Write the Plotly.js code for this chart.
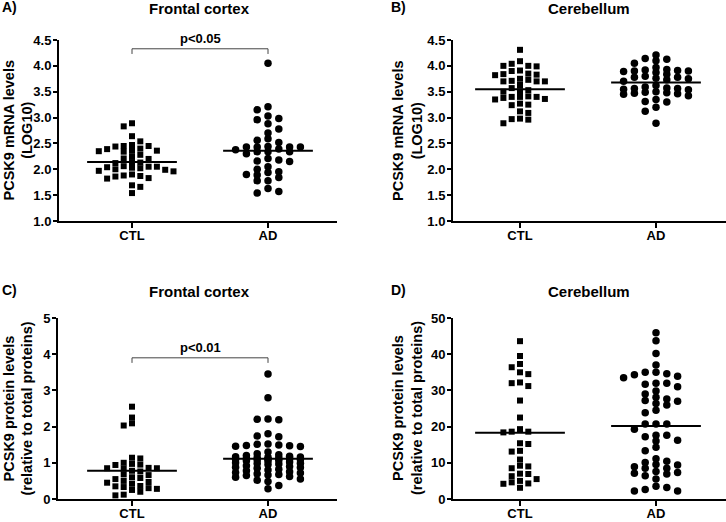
<!DOCTYPE html>
<html>
<head>
<meta charset="utf-8">
<script src="https://cdn.plot.ly/plotly-3.0.1.min.js"></script>
<style>html,body{margin:0;padding:0;background:#fff;}#chart{width:726px;height:522px;}</style>
</head>
<body>
<div id="chart"></div>
<script>
// ---------------- data ----------------
const groups = ['CTL', 'AD'];

// A) Frontal cortex, PCSK9 mRNA (LOG10)
const mrnaFrontalCTL = [2.89, 2.83, 2.64, 2.54, 2.47, 2.45, 2.45, 2.44, 2.40, 2.39, 2.36, 2.35, 2.34, 2.36,
  2.28, 2.25, 2.21, 2.20, 2.14, 2.13, 2.12, 2.06, 2.05, 2.05, 2.04, 2.03, 2.02, 2.00, 1.99, 1.97,
  1.96, 1.90, 1.88, 1.87, 1.86, 1.83, 1.82, 1.69, 1.66, 1.54];
const mrnaFrontalAD = [4.05, 3.21, 3.15, 3.03, 2.98, 2.96, 2.88, 2.78, 2.70, 2.59, 2.56, 2.52, 2.44, 2.43,
  2.43, 2.43, 2.43, 2.39, 2.38, 2.34, 2.34, 2.34, 2.30, 2.21, 2.18, 2.16, 2.15, 2.05, 2.00, 1.95,
  1.94, 1.90, 1.89, 1.84, 1.78, 1.78, 1.63, 1.57, 1.54];
const mrnaFrontalMedian = [2.14, 2.36];

// B) Cerebellum, PCSK9 mRNA (LOG10)
const mrnaCerebCTL = [4.31, 4.09, 4.04, 4.00, 4.00, 3.99, 3.91, 3.90, 3.85, 3.84, 3.83, 3.82, 3.75, 3.73,
  3.71, 3.70, 3.70, 3.70, 3.63, 3.57, 3.53, 3.51, 3.50, 3.41, 3.40, 3.40, 3.40, 3.38, 3.36, 3.35,
  3.27, 3.25, 3.24, 3.12, 3.09, 2.98, 2.97, 2.96, 2.89];
const mrnaCerebAD = [4.21, 4.14, 4.13, 4.10, 4.05, 3.97, 3.93, 3.92, 3.91, 3.90, 3.90, 3.89, 3.87, 3.84,
  3.80, 3.78, 3.78, 3.76, 3.75, 3.73, 3.70, 3.62, 3.59, 3.57, 3.56, 3.56, 3.55, 3.54, 3.50, 3.49,
  3.48, 3.47, 3.46, 3.45, 3.42, 3.35, 3.31, 3.30, 3.20, 3.12, 2.89];
const mrnaCerebMedian = [3.55, 3.68];

// C) Frontal cortex, PCSK9 protein (relative to total proteins)
const protFrontalCTL = [2.55, 2.25, 2.09, 2.03, 1.14, 1.12, 1.00, 0.97, 0.95, 0.94, 0.86, 0.85, 0.85, 0.84,
  0.78, 0.76, 0.68, 0.66, 0.60, 0.58, 0.55, 0.50, 0.47, 0.45, 0.42, 0.36, 0.35, 0.33, 0.30, 0.28,
  0.25, 0.20, 0.12, 0.10];
const protFrontalAD = [3.45, 2.80, 2.21, 2.20, 2.19, 1.80, 1.74, 1.72, 1.52, 1.51, 1.49, 1.48, 1.47, 1.46,
  1.45, 1.30, 1.25, 1.22, 1.20, 1.18, 1.17, 1.16, 1.15, 1.14, 1.13, 1.12, 1.11, 1.10, 1.10, 1.09,
  1.08, 1.07, 1.06, 1.05, 1.02, 1.00, 0.99, 0.98, 0.97, 0.95, 0.92, 0.90, 0.88, 0.87, 0.85, 0.82,
  0.80, 0.78, 0.75, 0.73, 0.72, 0.70, 0.68, 0.66, 0.65, 0.62, 0.60, 0.55, 0.52, 0.48, 0.37, 0.28];
const protFrontalMedian = [0.78, 1.11];

// D) Cerebellum, PCSK9 protein (relative to total proteins)
const protCerebCTL = [43.6, 39.5, 37.3, 36.4, 35.0, 34.5, 32.2, 32.0, 31.2, 27.2, 22.5, 19.3, 18.6, 18.6,
  18.4, 15.4, 15.2, 13.3, 13.1, 10.9, 9.2, 9.0, 8.5, 7.0, 6.9, 6.3, 5.5, 5.0, 4.6, 4.3, 4.2, 3.1];
const protCerebAD = [45.9, 43.7, 40.2, 37.0, 35.0, 35.0, 34.6, 34.3, 33.9, 33.5, 32.0, 32.0, 31.7, 31.0,
  29.8, 29.0, 28.1, 27.6, 27.2, 27.0, 26.4, 26.0, 24.5, 23.8, 20.7, 20.7, 20.7, 19.3, 17.6, 17.6,
  17.2, 16.2, 16.0, 14.3, 13.3, 11.1, 10.4, 10.1, 9.5, 9.4, 8.9, 8.5, 8.5, 7.6, 7.3, 7.1, 6.9,
  6.4, 5.5, 3.5, 3.2, 2.6, 2.2, 2.2];
const protCerebMedian = [18.3, 20.2];

const panelLabels = ['A)', 'B)', 'C)', 'D)'];
const panelTitles = ['Frontal cortex', 'Cerebellum', 'Frontal cortex', 'Cerebellum'];
const yTitles = ['PCSK9 mRNA levels<br>(LOG10)', 'PCSK9 mRNA levels<br>(LOG10)',
  'PCSK9 protein levels<br>(relative to total proteins)', 'PCSK9 protein levels<br>(relative to total proteins)'];
const pLabels = ['p<0.05', 'p<0.01'];

// ---------------- layout geometry ----------------
const W = 726, H = 522;
const FONT = 'Liberation Sans, Arial, Helvetica, sans-serif';
const panels = [
  {ctl: mrnaFrontalCTL, ad: mrnaFrontalAD, med: mrnaFrontalMedian, xpx: [59, 337], ypx: [40, 221], ctlPx: 132, yr: [1, 4.5], dtick: 0.5, fmt: '.1f', p: 0, brLo: 4.23, brHi: 4.33},
  {ctl: mrnaCerebCTL, ad: mrnaCerebAD, med: mrnaCerebMedian, xpx: [453, 726], ypx: [40, 221], ctlPx: 520, yr: [1, 4.5], dtick: 0.5, fmt: '.1f', p: null},
  {ctl: protFrontalCTL, ad: protFrontalAD, med: protFrontalMedian, xpx: [58, 337], ypx: [318, 499], ctlPx: 132, yr: [0, 5], dtick: 1, fmt: 'd', p: 1, brLo: 3.76, brHi: 3.90},
  {ctl: protCerebCTL, ad: protCerebAD, med: protCerebMedian, xpx: [453, 726], ypx: [318, 499], ctlPx: 520, yr: [0, 50], dtick: 10, fmt: 'd', p: null}
];
const GROUP_GAP_PX = 136; // pixel distance CTL -> AD

// grid beeswarm: points placed in discrete columns, avoiding vertical overlap,
// limited to +/- maxCol columns (falls back to the least crowded column)
function swarm(values, center, colPx, minDy, maxCol, pxPerY, pxPerX) {
  const order = values.map((v, i) => i).sort((a, b) => values[b] - values[a]);
  const placed = [];
  const xs = new Array(values.length);
  let nl = 0, nr = 0;
  for (const i of order) {
    const y = values[i] * pxPerY;
    let chosen = null, best = null, bestD = -1;
    for (let k = 0; k <= maxCol && chosen === null; k++) {
      const cands = k === 0 ? [0] : (nl <= nr ? [-k, k] : [k, -k]);
      for (const c of cands) {
        let dmin = Infinity;
        placed.forEach(p => { if (p.col === c) dmin = Math.min(dmin, Math.abs(p.y - y)); });
        if (dmin >= minDy) { chosen = c; break; }
        if (dmin > bestD + 0.5) { bestD = dmin; best = c; }
      }
    }
    if (chosen === null) chosen = best;
    if (chosen < 0) nl++; else if (chosen > 0) nr++;
    placed.push({col: chosen, y: y});
    xs[i] = center + chosen * colPx / pxPerX;
  }
  return xs;
}

const data = [];
const layout = {
  width: W, height: H, margin: {l: 0, r: 0, t: 0, b: 0},
  paper_bgcolor: '#fff', plot_bgcolor: '#fff', showlegend: false,
  font: {family: FONT, color: '#000', weight: 'bold'},
  annotations: [], shapes: []
};

panels.forEach((P, k) => {
  const n = k + 1;
  const xa = 'xaxis' + (n === 1 ? '' : n), ya = 'yaxis' + (n === 1 ? '' : n);
  const xr = 'x' + (n === 1 ? '' : n), yr = 'y' + (n === 1 ? '' : n);
  const left = -(P.ctlPx - P.xpx[0]) / GROUP_GAP_PX;
  const right = 1 + (P.xpx[1] - (P.ctlPx + GROUP_GAP_PX)) / GROUP_GAP_PX;
  const pxPerY = (P.ypx[1] - P.ypx[0]) / (P.yr[1] - P.yr[0]);
  layout[xa] = {
    domain: [P.xpx[0] / W, P.xpx[1] / W], range: [left, right], anchor: yr,
    tickmode: 'array', tickvals: [0, 1], ticktext: groups,
    showline: true, linecolor: '#000', linewidth: 2, ticks: 'outside', ticklen: 5, tickwidth: 2, tickcolor: '#000',
    showgrid: false, zeroline: false, fixedrange: true, ticklabelstandoff: -4,
    tickfont: {family: FONT, size: 13, color: '#000', weight: 'bold'}
  };
  layout[ya] = {
    domain: [1 - P.ypx[1] / H, 1 - P.ypx[0] / H], range: P.yr, anchor: xr,
    dtick: P.dtick, tick0: 0, tickformat: P.fmt,
    showline: true, linecolor: '#000', linewidth: 2, ticks: 'outside', ticklen: 4, tickwidth: 2, tickcolor: '#000',
    showgrid: false, zeroline: false, fixedrange: true, ticklabelstandoff: -1,
    tickfont: {family: FONT, size: 13, color: '#000', weight: 'bold'}
  };
  const xCTL = swarm(P.ctl, 0, 8.3, 5.5, 5, pxPerY, GROUP_GAP_PX);
  const xAD = swarm(P.ad, 1, 10.8, 5.5, 3, pxPerY, GROUP_GAP_PX);
  data.push({type: 'scatter', mode: 'markers', x: xCTL, y: P.ctl, xaxis: xr, yaxis: yr, cliponaxis: false,
    marker: {symbol: 'square', size: 6, color: '#000', line: {width: 0}}, name: groups[0] });
  data.push({type: 'scatter', mode: 'markers', x: xAD, y: P.ad, xaxis: xr, yaxis: yr, cliponaxis: false,
    marker: {symbol: 'circle', size: 7.5, color: '#000', line: {width: 0}}, name: groups[1] });
  // median lines
  [0, 1].forEach(g => {
    data.push({type: 'scatter', mode: 'lines', x: [g - 0.33, g + 0.33], y: [P.med[g], P.med[g]],
      xaxis: xr, yaxis: yr, line: {color: '#000', width: 2}, hoverinfo: 'skip', cliponaxis: false});
  });
  // significance bracket
  if (P.p !== null) {
    data.push({type: 'scatter', mode: 'lines', x: [0, 0, 1, 1], y: [P.brLo, P.brHi, P.brHi, P.brLo],
      xaxis: xr, yaxis: yr, line: {color: '#444', width: 1}, hoverinfo: 'skip', cliponaxis: false});
    layout.annotations.push({xref: xr, yref: yr, x: 0.5, y: P.brHi, yanchor: 'bottom', yshift: 1,
      text: pLabels[P.p], showarrow: false, font: {family: FONT, size: 13, color: '#000', weight: 'bold'}});
  }
  // y-axis title
  const ytx = k % 2 === 0 ? 18 : 407.5;
  layout.annotations.push({xref: 'paper', yref: 'paper', x: ytx / W, y: 1 - ((P.ypx[0] + P.ypx[1]) / 2) / H,
    xanchor: 'center', yanchor: 'middle', textangle: -90, text: yTitles[k], showarrow: false,
    font: {family: FONT, size: 14.5, color: '#000', weight: 'bold'}});
  // panel title and label
  const titleY = k < 2 ? 8 : 291;
  const titleX = k % 2 === 0 ? 199.5 : 589;
  layout.annotations.push({xref: 'paper', yref: 'paper', x: titleX / W, y: 1 - titleY / H,
    xanchor: 'center', yanchor: 'middle', text: panelTitles[k], showarrow: false,
    font: {family: FONT, size: 15, color: '#000', weight: 'bold'}});
  const labX = k % 2 === 0 ? 0 : 389;
  layout.annotations.push({xref: 'paper', yref: 'paper', x: labX / W, y: 1 - (titleY - 1) / H,
    xanchor: 'left', yanchor: 'middle', text: panelLabels[k], showarrow: false,
    font: {family: FONT, size: 14, color: '#000', weight: 'bold'}});
});

Plotly.newPlot('chart', data, layout, {displayModeBar: false, staticPlot: true});
</script>
</body>
</html>
